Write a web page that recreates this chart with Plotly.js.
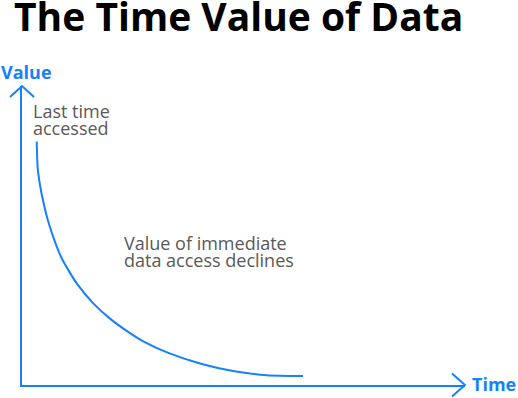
<!DOCTYPE html>
<html>
<head>
<meta charset="utf-8">
<script src="https://cdn.plot.ly/plotly-3.0.1.min.js"></script>
<style>html,body{margin:0;padding:0;background:#fff;}#chart{width:518px;height:398px;}</style>
</head>
<body>
<div id="chart"></div>
<script>
// Data (time and value in arbitrary 0-100 units)
var timeValues = [3.32, 3.54, 4.06, 4.81, 5.94, 7.45, 8.96, 10.84, 12.35, 16.09, 19.86, 23.63, 27.38, 32.73, 40.18, 47.63, 55.30, 63.43];
var dataValues = [81.4, 72.6, 66.9, 61.3, 54.6, 47.9, 42.4, 37.5, 34.0, 27.3, 22.2, 18.1, 14.6, 10.9, 7.2, 4.7, 3.3, 3.0];
var chartTitle = "The Time Value of Data";
var xLabel = "Time";
var yLabel = "Value";
var startNoteLines = ["Last time", "accessed"];
var declineNoteLines = ["Value of immediate", "data access declines"];

var blue = "#1681f9";
var grey = "#595959";
var font = "Open Sans, Noto Sans, sans-serif";
var W = 443, H = 299; // plot area in px

var trace = {
  x: timeValues,
  y: dataValues,
  type: "scatter",
  mode: "lines",
  line: {color: blue, width: 2, shape: "spline", smoothing: 0.6},
  hoverinfo: "skip"
};

function noteLines(lines, xPx, firstBaselinePx, gap) {
  return lines.map(function (t, i) {
    var base = firstBaselinePx + i * gap;
    return {text: t, xref: "paper", yref: "paper",
      x: (xPx - 22) / W, y: (385 - (base - 5.5)) / H,
      xanchor: "left", yanchor: "middle", align: "left", valign: "middle",
      height: 16.4,
      showarrow: false, font: {family: font, size: 18, color: grey}};
  });
}

var layout = {
  width: 518,
  height: 398,
  margin: {l: 22, r: 53, t: 86, b: 13, pad: 0},
  paper_bgcolor: "#fff",
  plot_bgcolor: "#fff",
  showlegend: false,
  title: {
    text: "<b>" + chartTitle + "</b>",
    font: {family: font, size: 39, color: "#000"},
    x: 14 / 518, xanchor: "left", xref: "container",
    y: 1, yanchor: "top", yref: "container",
    pad: {t: 4, l: 0}
  },
  xaxis: {
    range: [0, 100], showgrid: false, zeroline: false, showticklabels: false, ticks: "",
    showline: true, linecolor: blue, linewidth: 2, fixedrange: true
  },
  yaxis: {
    range: [0, 100], showgrid: false, zeroline: false, showticklabels: false, ticks: "",
    showline: true, linecolor: blue, linewidth: 2, fixedrange: true
  },
  shapes: [
    {type: "path", xref: "paper", yref: "paper",
     path: "M -0.0271 0.9632 L 0 1 L 0.0271 0.9632",
     line: {color: blue, width: 2}},
    {type: "path", xref: "paper", yref: "paper",
     path: "M 0.9707 0.0385 L 1 0 L 0.9707 -0.0385",
     line: {color: blue, width: 2}}
  ],
  annotations: [
    {text: "<b>" + yLabel + "</b>", xref: "paper", yref: "paper",
     x: -23 / W, y: (385 - 72) / H, xanchor: "left", yanchor: "middle",
     showarrow: false, font: {family: font, size: 18, color: blue}},
    {text: "<b>" + xLabel + "</b>", xref: "paper", yref: "paper",
     x: 1 + 5 / W, y: -(384 - 385) / H, xanchor: "left", yanchor: "middle",
     showarrow: false, font: {family: font, size: 18, color: blue}}
  ].concat(noteLines(startNoteLines, 31, 116.5, 16.5))
   .concat(noteLines(declineNoteLines, 122, 248.5, 16.5))
};

Plotly.newPlot("chart", [trace], layout, {displayModeBar: false, staticPlot: true});
</script>
</body>
</html>
